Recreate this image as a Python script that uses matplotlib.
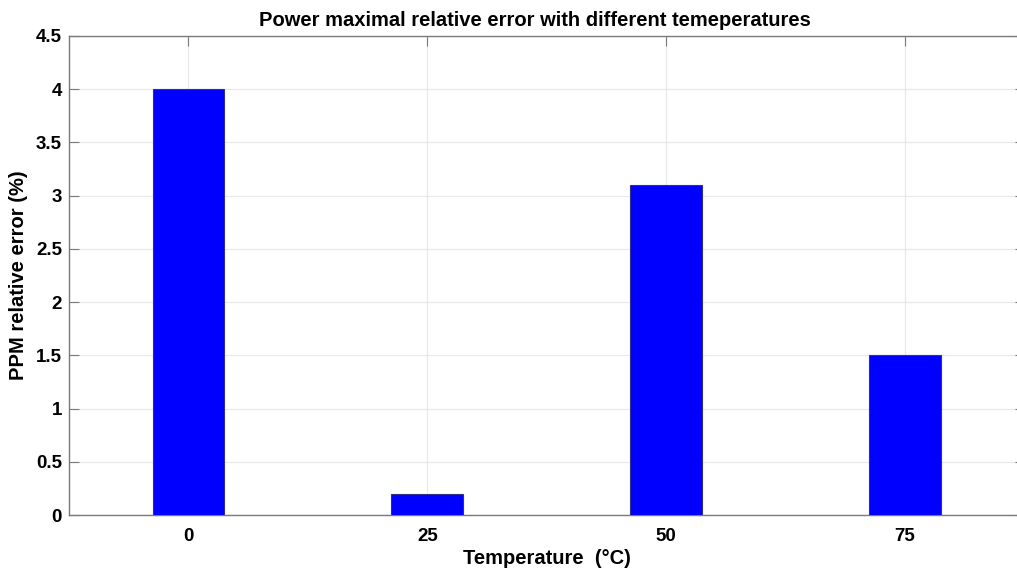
import numpy as np
import matplotlib.pyplot as plt

plt.rcParams['font.family'] = ['Liberation Sans', 'DejaVu Sans']
plt.rcParams['font.weight'] = 'bold'

temps = [0, 25, 50, 75]
errors = [4.0, 0.2, 3.1, 1.5]
yticks = [0, 0.5, 1, 1.5, 2, 2.5, 3, 3.5, 4, 4.5]

fig = plt.figure(figsize=(10.17, 5.73), dpi=100)
# right edge lies just outside the image, as in the cropped original
ax = fig.add_axes([0.0678, 0.1012, 0.9396, 0.836])

ax.bar(temps, errors, width=7.5, color='#0000ff', edgecolor='#30308a', linewidth=0.8, zorder=3)

ax.set_xlim(-12.5, 87.5)
ax.set_ylim(0, 4.5)
ax.set_xticks(temps)
ax.set_yticks(yticks)
ax.set_yticklabels([f'{v:g}' for v in yticks])
ax.grid(True, color='#e8e8e8', linewidth=0.9, zorder=0)
ax.set_axisbelow(True)

for s in ax.spines.values():
    s.set_color('#7a7a7a')
    s.set_linewidth(1.0)
ax.spines['right'].set_visible(False)
ax.tick_params(direction='in', length=7, width=0.8, color='#7a7a7a',
               top=True, right=True, labelsize=13.5)
ax.tick_params(axis='x', pad=9)
ax.tick_params(axis='y', pad=5)

ax.set_title('Power maximal relative error with different temeperatures',
             fontsize=14.5, fontweight='bold', pad=7, x=0.488)
ax.set_xlabel('Temperature  (°C)', fontsize=14.5, fontweight='bold', labelpad=3)
ax.set_ylabel('PPM relative error (%)', fontsize=14.5, fontweight='bold', labelpad=6)

fig.savefig('out.png', dpi=100)
